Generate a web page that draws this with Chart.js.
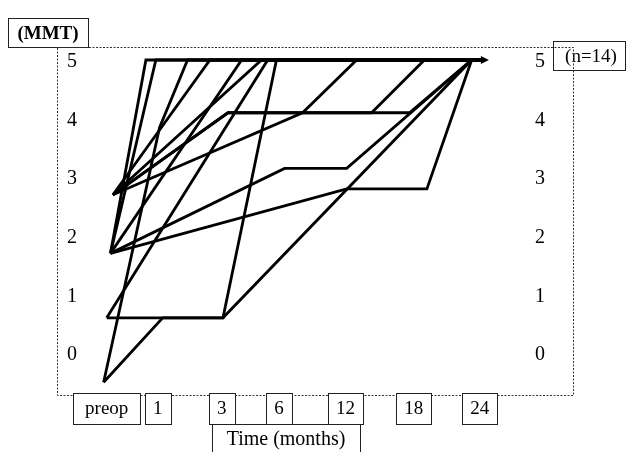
<!DOCTYPE html>
<html>
<head>
<meta charset="utf-8">
<script src="https://cdn.jsdelivr.net/npm/chart.js@4.4.1/dist/chart.umd.min.js"></script>
<style>
  html, body { margin: 0; padding: 0; background: #fff; }
  #wrap { width: 629px; height: 452px; position: relative; }
</style>
</head>
<body>
<div id="wrap"><canvas id="c" width="629" height="452"></canvas></div>
<script>
// MMT grade of each patient at successive visits: [visit position on time axis, grade]
const pt01 = [[0.06, 1.7], [0.63, 5], [6.05, 5]];
const pt02 = [[0.06, 1.7], [0.79, 5], [6.05, 5]];
const pt03 = [[0.06, 1.7], [2.17, 5], [6.05, 5]];
const pt04 = [[0.06, 1.7], [2.86, 3.15], [3.86, 3.15], [5.87, 5], [6.05, 5]];
const pt05 = [[0.06, 1.7], [3.86, 2.8], [5.15, 2.8], [5.87, 5], [6.05, 5]];
const pt06 = [[0, 0.6], [1.87, 0.6], [2.73, 5], [6.05, 5]];
const pt07 = [[0, 0.6], [2.59, 5], [6.05, 5]];
const pt08 = [[-0.05, -0.5], [0.85, 3.85], [1.30, 5], [6.05, 5]];
const pt09 = [[-0.05, -0.5], [0.90, 0.6], [1.87, 0.6], [5.87, 5], [6.05, 5]];
const pt10 = [[0.1, 2.7], [1.95, 4.1], [4.87, 4.1], [5.87, 5], [6.05, 5]];
const pt11 = [[0.1, 2.7], [3.15, 4.1], [4.02, 5], [6.05, 5]];
const pt12 = [[0.1, 2.7], [2.49, 5], [6.05, 5]];
const pt13 = [[0.1, 2.7], [1.66, 5], [6.05, 5]];
const pt14 = [[0.1, 2.7], [1.95, 4.1], [4.26, 4.1], [5.11, 5], [6.05, 5]];

// follow-up visits (months) and where they sit on the time axis
const timeLabels = ['preop', '1', '3', '6', '12', '18', '24'];
const timePositions = [0, 0.82, 1.85, 2.77, 3.84, 4.94, 6.0];
const mmtTicks = [0, 1, 2, 3, 4, 5];

const patients = [pt01, pt02, pt03, pt04, pt05, pt06, pt07,
                  pt08, pt09, pt10, pt11, pt12, pt13, pt14];

const SERIF = '"Liberation Serif", "DejaVu Serif", serif';

function fixedTicks(scale) {
  scale.ticks = mmtTicks.map(v => ({ value: v }));
}

// frame, boxed captions, time labels, right-hand grade labels and the arrow head
const framePlugin = {
  id: 'frame',
  afterDatasetsDraw(chart) {
    const ctx = chart.ctx;
    const a = chart.chartArea;
    const xs = chart.scales.x;
    const ys = chart.scales.y;
    ctx.save();

    // arrow head at the end of the top (grade 5) line
    const last = pt01[pt01.length - 1];
    const ax = xs.getPixelForValue(last[0]);
    const ay = ys.getPixelForValue(last[1]);
    ctx.fillStyle = '#000';
    ctx.beginPath();
    ctx.moveTo(ax - 2, ay - 4);
    ctx.lineTo(ax + 6, ay);
    ctx.lineTo(ax - 2, ay + 4);
    ctx.closePath();
    ctx.fill();

    // grade labels repeated along the right side of the frame
    ctx.font = '20px ' + SERIF;
    ctx.fillStyle = '#000';
    ctx.textAlign = 'right';
    ctx.textBaseline = 'middle';
    mmtTicks.forEach(v => {
      ctx.fillText(String(v), a.right - 28, ys.getPixelForValue(v) + 2);
    });

    // caption boxes
    ctx.strokeStyle = '#222';
    ctx.lineWidth = 1;
    ctx.fillStyle = '#000';
    ctx.textAlign = 'center';

    ctx.strokeRect(8.5, 18.5, 80, 29);
    ctx.font = 'bold 19px ' + SERIF;
    ctx.fillText('(MMT)', 48, 34);

    ctx.strokeRect(553.5, 41.5, 72, 29);
    ctx.font = '19px ' + SERIF;
    ctx.fillText('(n=14)', 591, 57);

    // plot frame (dotted)
    ctx.save();
    ctx.setLineDash([2, 1.5]);
    ctx.strokeStyle = '#333';
    ctx.strokeRect(Math.round(a.left) + 0.5, Math.round(a.top) + 0.5,
                   Math.round(a.right - a.left), Math.round(a.bottom - a.top));
    ctx.restore();

    // time axis labels in boxes
    ctx.font = '19px ' + SERIF;
    const boxTop = a.bottom - 2;
    const boxH = 31;
    timeLabels.forEach((lab, i) => {
      const cx = xs.getPixelForValue(timePositions[i]);
      const w = Math.round(ctx.measureText(lab).width + (lab === 'preop' ? 24 : 16));
      const left = Math.round(cx - w / 2) + 0.5;
      ctx.fillStyle = '#fff';
      ctx.fillRect(left, boxTop, w, boxH);
      ctx.strokeRect(left, boxTop + 0.5, w, boxH);
      ctx.fillStyle = '#000';
      ctx.fillText(lab, cx, boxTop + boxH / 2 + 1);
    });

    // axis title
    ctx.strokeRect(212.5, boxTop + boxH + 0.5, 148, 40);
    ctx.font = '20px ' + SERIF;
    ctx.fillText('Time (months)', 286, boxTop + boxH + 16);

    ctx.restore();
  }
};

new Chart(document.getElementById('c'), {
  type: 'line',
  data: {
    datasets: patients.map((p, i) => ({
      label: 'patient ' + (i + 1),
      data: p.map(([t, g]) => ({ x: t, y: g })),
      borderColor: '#000',
      borderWidth: 2.8,
      pointRadius: 0,
      tension: 0,
      fill: false
    }))
  },
  options: {
    responsive: false,
    devicePixelRatio: 1,
    animation: false,
    layout: { padding: { left: 37, right: 56, top: 47, bottom: 57 } },
    plugins: { legend: { display: false }, tooltip: { enabled: false } },
    scales: {
      x: { type: 'linear', display: false, min: -0.8, max: 7.5 },
      y: {
        position: 'left',
        min: -0.717,
        max: 5.222,
        afterBuildTicks: fixedTicks,
        grid: { display: false, drawTicks: false },
        border: { display: false },
        ticks: { mirror: true, padding: 10, labelOffset: 2, color: '#000',
                 font: { family: SERIF, size: 20 } }
      }
    }
  },
  plugins: [framePlugin]
});
</script>
</body>
</html>
